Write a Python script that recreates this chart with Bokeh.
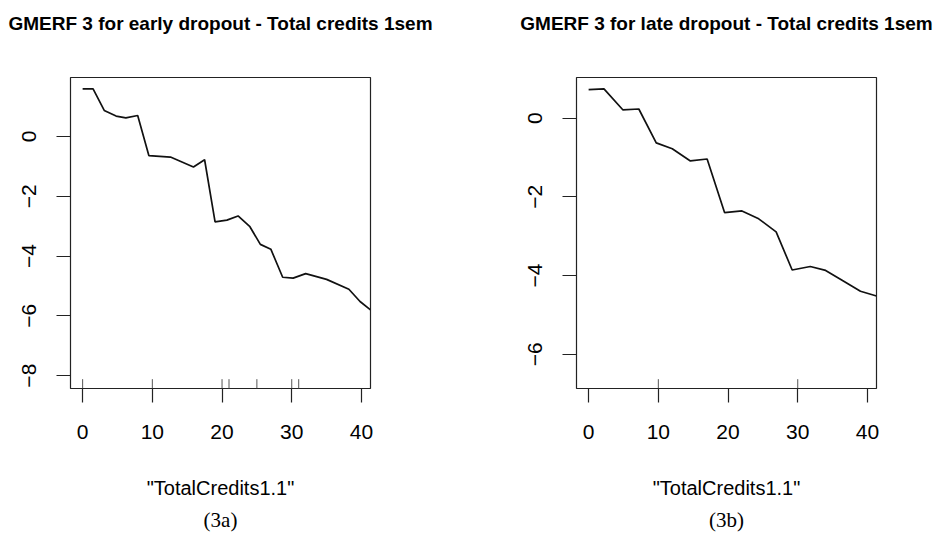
from bokeh.plotting import figure
from bokeh.layouts import row
from bokeh.models import Range1d, FixedTicker, Title, ColumnDataSource
from bokeh.embed import file_html
from bokeh.resources import INLINE

# ---- data ----
x_early = [0, 1.5, 3.1, 4.8, 6.2, 7.9, 9.5, 12.6, 15.9, 17.5, 19.0, 20.7, 22.3,
           24.0, 25.5, 27.0, 28.7, 30.2, 32.0, 35.0, 38.2, 39.8, 41.3]
y_early = [1.59, 1.59, 0.87, 0.68, 0.62, 0.70, -0.64, -0.69, -1.02, -0.78, -2.86,
           -2.80, -2.66, -3.02, -3.61, -3.77, -4.71, -4.74, -4.59, -4.78, -5.11,
           -5.52, -5.80]
rug_early = [0, 10, 20, 21, 25, 30, 31]

x_late = [0, 2.2, 4.9, 7.2, 9.7, 12.0, 14.6, 17.0, 19.5, 22.0, 24.4, 26.9, 29.2,
          31.8, 34.0, 36.0, 39.0, 41.3]
y_late = [0.72, 0.74, 0.21, 0.23, -0.63, -0.78, -1.09, -1.04, -2.40, -2.36, -2.56,
          -2.89, -3.86, -3.77, -3.87, -4.08, -4.40, -4.52]
rug_late = [10, 30]

x_ticks = [0, 10, 20, 30, 40]
y_ticks_early = [-8, -6, -4, -2, 0]
y_ticks_late = [-6, -4, -2, 0]

title_early = "GMERF 3 for early dropout - Total credits 1sem"
title_late = "GMERF 3 for late dropout - Total credits 1sem"
x_label = '"TotalCredits1.1"'
tag_early = "(3a)"
tag_late = "(3b)"

X_LO, X_HI = -1.74, 41.3

SANS = "Liberation Sans"
SERIF = "Liberation Serif"


def panel(title, tag, xs, ys, rug, ylo, yhi, yticks, bl, br):
    p = figure(width=470, height=536, output_backend="svg", toolbar_location=None,
               x_range=Range1d(X_LO, X_HI), y_range=Range1d(ylo, yhi),
               min_border_left=bl, min_border_right=br,
               min_border_top=77, min_border_bottom=147)
    p.background_fill_color = "white"
    p.border_fill_color = "white"
    p.outline_line_color = "#222222"
    p.outline_line_width = 1.2
    p.xgrid.visible = False
    p.ygrid.visible = False

    # second (blank) line keeps the title high above the frame, as in the original
    p.title.text = title + "\n "
    p.title.align = "center"
    p.title.vertical_align = "top"
    p.title.text_font = SANS
    p.title.text_font_size = "19px"
    p.title.text_font_style = "bold"
    p.title.text_color = "black"
    p.title.text_line_height = 2.0
    p.title.standoff = 0

    for ax in (p.xaxis[0], p.yaxis[0]):
        ax.axis_line_color = None
        ax.major_tick_line_color = "#222222"
        ax.major_tick_line_width = 1.2
        ax.major_tick_out = 14
        ax.major_tick_in = 0
        ax.minor_tick_line_color = None
        ax.major_label_text_font = SANS
        ax.major_label_text_font_size = "21px"
        ax.major_label_text_color = "black"

    p.xaxis.ticker = FixedTicker(ticks=x_ticks)
    p.yaxis.ticker = FixedTicker(ticks=yticks)
    p.xaxis.major_label_standoff = 22
    p.yaxis.major_label_standoff = 20
    p.yaxis.major_label_orientation = "vertical"

    p.xaxis.axis_label = x_label
    p.xaxis.axis_label_text_font = SANS
    p.xaxis.axis_label_text_font_size = "20px"
    p.xaxis.axis_label_text_font_style = "normal"
    p.xaxis.axis_label_text_color = "black"
    p.xaxis.axis_label_standoff = 35

    p.add_layout(Title(text=tag, align="center", text_font=SERIF,
                       text_font_size="21px", text_font_style="normal",
                       text_color="black", standoff=9), "below")

    # rug ticks inside the bottom of the frame (3% of the plot height)
    h = 0.03 * (yhi - ylo)
    src_rug = ColumnDataSource(dict(x=rug, y0=[ylo] * len(rug), y1=[ylo + h] * len(rug)))
    p.segment(x0="x", y0="y0", x1="x", y1="y1", source=src_rug,
              line_color="#555555", line_width=1)

    src = ColumnDataSource(dict(x=xs, y=ys))
    p.line("x", "y", source=src, line_color="#111111", line_width=1.7)
    return p


p1 = panel(title_early, tag_early, x_early, y_early, rug_early,
           -8.43, 1.97, y_ticks_early, 70, 100)
p2 = panel(title_late, tag_late, x_late, y_late, rug_late,
           -6.87, 1.03, y_ticks_late, 106, 64)

layout = row(p1, p2)
open("out.html", "w").write(file_html(layout, INLINE))
